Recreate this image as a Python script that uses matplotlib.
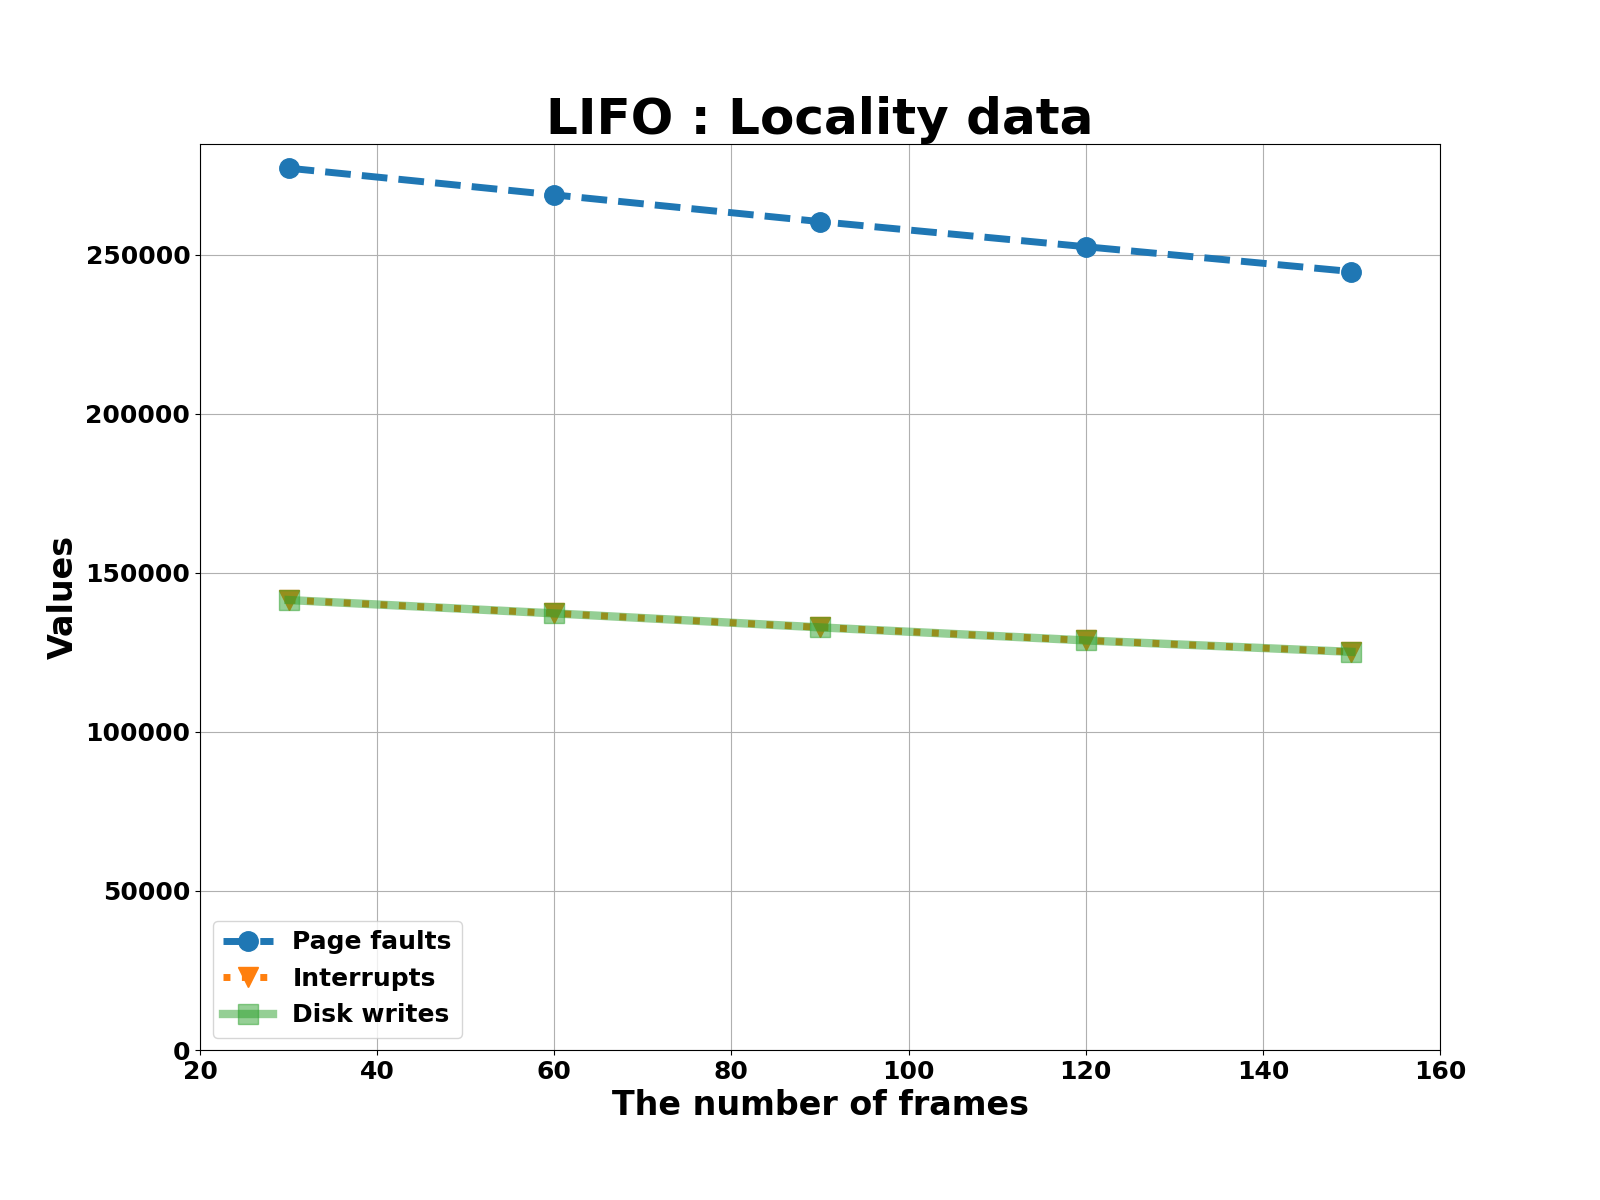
import matplotlib
matplotlib.use("Agg")
import matplotlib.pyplot as plt

frames = [30, 60, 90, 120, 150]
page_faults = [277300, 268900, 260500, 252600, 244800]
interrupts = [141500, 137300, 132900, 128800, 125200]
disk_writes = [141500, 137300, 132900, 128800, 125200]

fig, ax = plt.subplots(figsize=(16, 12), dpi=100)
fig.subplots_adjust(left=0.125, right=0.9, bottom=0.125, top=0.88)

ax.plot(frames, page_faults, '--o', color='tab:blue', linewidth=5, markersize=14, label='Page faults')
ax.plot(frames, interrupts, ':v', color='tab:orange', linewidth=5, markersize=14, label='Interrupts')
ax.plot(frames, disk_writes, '-s', color='tab:green', linewidth=6, markersize=14, alpha=0.5, label='Disk writes')

ax.set_xlim(20, 160)
ax.set_ylim(bottom=0)
ax.grid(True)

ax.set_title('LIFO : Locality data', fontsize=36, fontweight='bold')
ax.set_xlabel('The number of frames', fontsize=24, fontweight='bold')
ax.set_ylabel('Values', fontsize=24, fontweight='bold')
for lbl in ax.get_xticklabels() + ax.get_yticklabels():
    lbl.set_fontweight('bold')
ax.tick_params(labelsize=18)

ax.legend(loc='lower left', prop={'weight': 'bold', 'size': 18})

fig.savefig('out.png')
